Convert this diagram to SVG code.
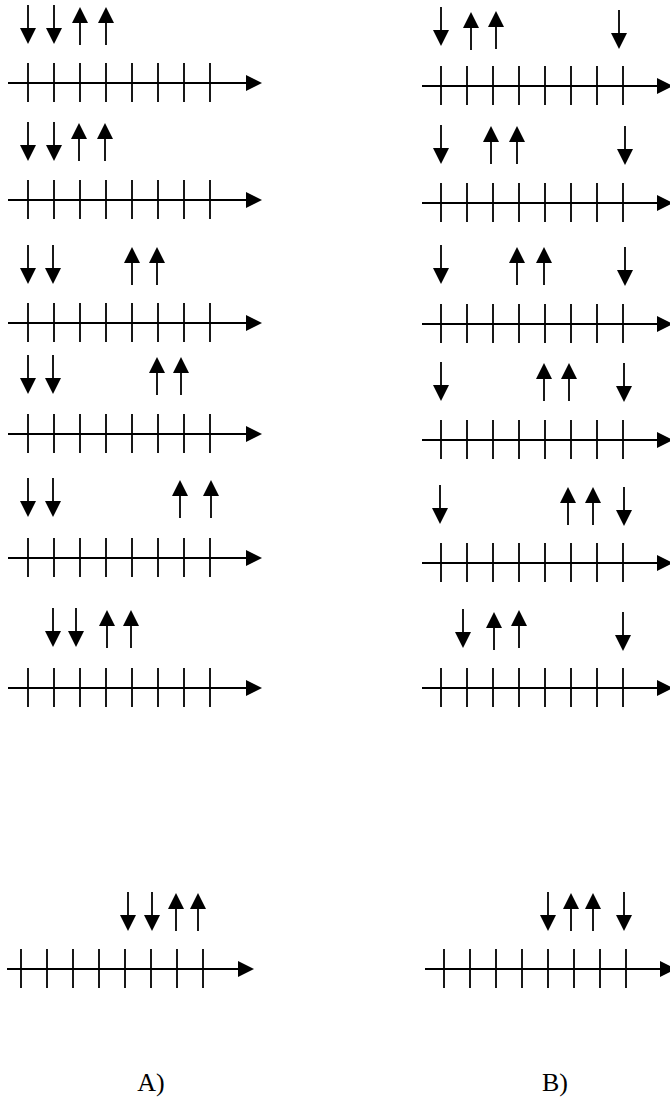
<svg xmlns="http://www.w3.org/2000/svg" xmlns:xlink="http://www.w3.org/1999/xlink" width="670" height="1102" viewBox="0 0 670 1102">
<style>
.ax{stroke:#000;stroke-width:2;fill:none}
.tk{stroke:#000;stroke-width:1.8;fill:none}
.sh{stroke:#000;stroke-width:1.8}
.hd{fill:#000}
.lbl{font-family:"Liberation Serif","Times New Roman",serif;font-size:26px;fill:#000}
</style>
<defs>
<g id="dn"><line class="sh" x1="0" y1="0" x2="0" y2="25"/><polygon class="hd" points="-8,23 8,23 0,39"/></g>
<g id="up"><polygon class="hd" points="0,0 -8,16 8,16"/><line class="sh" x1="0" y1="14" x2="0" y2="38"/></g>
<g id="axL"><line class="ax" x1="8" y1="0" x2="248" y2="0"/><polygon class="hd" points="246,-8 262,0 246,8"/><path class="tk" d="M28,-20V19M54,-20V19M80,-20V19M106,-20V19M132,-20V19M158,-20V19M184,-20V19M210,-20V19"/></g>
<g id="axR"><line class="ax" x1="422" y1="0" x2="659" y2="0"/><polygon class="hd" points="657,-8 673,0 657,8"/><path class="tk" d="M441,-20V19M467,-20V19M493,-20V19M519,-20V19M545,-20V19M571,-20V19M597,-20V19M623,-20V19"/></g>
</defs>
<g id="connectors">
<use xlink:href="#axL" transform="translate(0,83)"/>
<use xlink:href="#axL" transform="translate(0,200)"/>
<use xlink:href="#axL" transform="translate(0,323)"/>
<use xlink:href="#axL" transform="translate(0,434)"/>
<use xlink:href="#axL" transform="translate(0,558)"/>
<use xlink:href="#axL" transform="translate(0,688)"/>
<g transform="translate(0,969)"><line class="ax" x1="7" y1="0" x2="240" y2="0"/><polygon class="hd" points="238,-8 254,0 238,8"/><path class="tk" d="M21,-20V19M47,-20V19M73,-20V19M99,-20V19M125,-20V19M151,-20V19M177,-20V19M203,-20V19"/></g>
<use xlink:href="#axR" transform="translate(0,86)"/>
<use xlink:href="#axR" transform="translate(0,203)"/>
<use xlink:href="#axR" transform="translate(0,324)"/>
<use xlink:href="#axR" transform="translate(0,440)"/>
<use xlink:href="#axR" transform="translate(0,563)"/>
<use xlink:href="#axR" transform="translate(0,688)"/>
<use xlink:href="#axR" transform="translate(3,969)"/>
</g>
<g id="A1"><use xlink:href="#dn" x="28" y="5"/><use xlink:href="#dn" x="54" y="5"/><use xlink:href="#up" x="80" y="7"/><use xlink:href="#up" x="106" y="7"/></g>
<g id="A2"><use xlink:href="#dn" x="28" y="122"/><use xlink:href="#dn" x="54" y="122"/><use xlink:href="#up" x="79" y="123"/><use xlink:href="#up" x="105" y="123"/></g>
<g id="A3"><use xlink:href="#dn" x="28" y="245"/><use xlink:href="#dn" x="53" y="245"/><use xlink:href="#up" x="132" y="247"/><use xlink:href="#up" x="157" y="247"/></g>
<g id="A4"><use xlink:href="#dn" x="28" y="355"/><use xlink:href="#dn" x="53" y="355"/><use xlink:href="#up" x="157" y="357"/><use xlink:href="#up" x="181" y="357"/></g>
<g id="A5"><use xlink:href="#dn" x="28" y="478"/><use xlink:href="#dn" x="53" y="478"/><use xlink:href="#up" x="180" y="480"/><use xlink:href="#up" x="211" y="480"/></g>
<g id="A6"><use xlink:href="#dn" x="53" y="608"/><use xlink:href="#dn" x="76" y="608"/><use xlink:href="#up" x="107" y="610"/><use xlink:href="#up" x="131" y="610"/></g>
<g id="A7"><use xlink:href="#dn" x="128" y="892"/><use xlink:href="#dn" x="152" y="892"/><use xlink:href="#up" x="176" y="893"/><use xlink:href="#up" x="198" y="893"/></g>
<g id="B1"><use xlink:href="#dn" x="441" y="7"/><use xlink:href="#up" x="471" y="12"/><use xlink:href="#up" x="496" y="11"/><use xlink:href="#dn" x="619" y="10"/></g>
<g id="B2"><use xlink:href="#dn" x="441" y="125"/><use xlink:href="#up" x="491" y="126"/><use xlink:href="#up" x="517" y="126"/><use xlink:href="#dn" x="625" y="126"/></g>
<g id="B3"><use xlink:href="#dn" x="441" y="245"/><use xlink:href="#up" x="517" y="247"/><use xlink:href="#up" x="544" y="247"/><use xlink:href="#dn" x="625" y="247"/></g>
<g id="B4"><use xlink:href="#dn" x="441" y="362"/><use xlink:href="#up" x="544" y="363"/><use xlink:href="#up" x="569" y="363"/><use xlink:href="#dn" x="624" y="363"/></g>
<g id="B5"><use xlink:href="#dn" x="440" y="485"/><use xlink:href="#up" x="568" y="487"/><use xlink:href="#up" x="593" y="487"/><use xlink:href="#dn" x="624" y="487"/></g>
<g id="B6"><use xlink:href="#dn" x="463" y="609"/><use xlink:href="#up" x="494" y="612"/><use xlink:href="#up" x="519" y="610"/><use xlink:href="#dn" x="623" y="612"/></g>
<g id="B7"><use xlink:href="#dn" x="548" y="892"/><use xlink:href="#up" x="571" y="893"/><use xlink:href="#up" x="593" y="893"/><use xlink:href="#dn" x="624" y="892"/></g>
<g id="labelA"><text class="lbl" x="151" y="1091" text-anchor="middle">A)</text></g>
<g id="labelB"><text class="lbl" x="555" y="1091" text-anchor="middle">B)</text></g>
</svg>
